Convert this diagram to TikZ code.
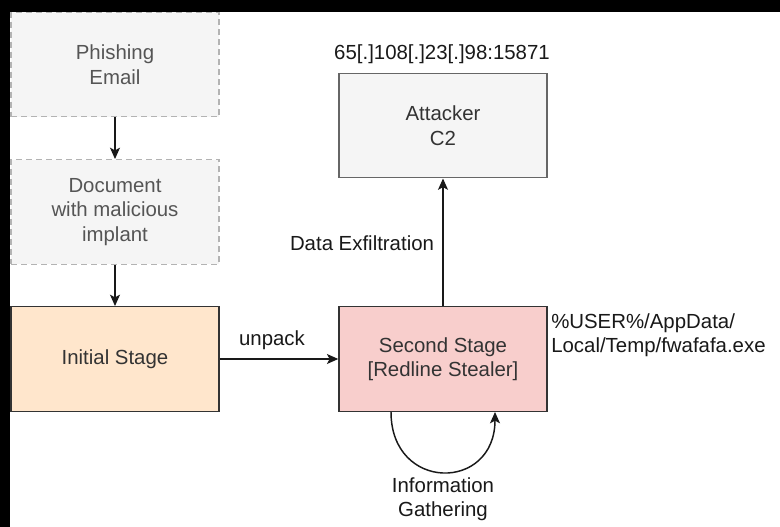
\documentclass[tikz,border=0pt]{standalone}
\usepackage{fontspec}
\setmainfont{Liberation Sans}
\usetikzlibrary{arrows.meta}
\definecolor{boxgray}{HTML}{F5F5F5}
\definecolor{dashgray}{HTML}{B3B3B3}
\definecolor{midgray}{HTML}{666666}
\definecolor{txtgray}{HTML}{333333}
\definecolor{lighttxt}{HTML}{555555}
\definecolor{orangefill}{HTML}{FFE6CC}
\definecolor{redfill}{HTML}{F8CECC}
\begin{document}
\begin{tikzpicture}[x=0.75pt,y=-0.75pt,
  every node/.style={font=\fontsize{15.3}{18.4}\selectfont, align=center, inner sep=0pt},
  basebox/.style={minimum width=208*0.75pt, minimum height=104.5*0.75pt, line width=1.1pt},
  dashbox/.style={basebox, draw=dashgray, fill=boxgray, dashed, dash pattern=on 4.5pt off 3pt, text=lighttxt},
  graybox/.style={basebox, draw=midgray, fill=boxgray, text=txtgray},
  orangebox/.style={basebox, draw=txtgray, fill=orangefill, text=txtgray},
  redbox/.style={basebox, draw=txtgray, fill=redfill, text=txtgray},
  lbl/.style={text=black!90},
  conn/.style={line width=1.1pt, draw=black!90, -{Stealth[length=8.5pt,width=7.5pt,inset=2pt]}}
]
\useasboundingbox (0,0) rectangle (780,527);
\fill[white] (0,0) rectangle (780,527);
\fill[black] (0,0) rectangle (780,12);
\fill[black] (0,0) rectangle (10,527);

\node[dashbox] (phish) at (115,64.5) {Phishing\\Email};
\node[dashbox] (doc) at (115,212) {Document\\with malicious\\implant};
\node[orangebox] (init) at (115,359) {Initial Stage};
\node[redbox] (second) at (443,359) {Second Stage\\{[Redline Stealer]}};
\node[graybox] (c2) at (443,125.5) {Attacker\\C2};

\node[lbl] (ip) at (442,54) {65[.]108[.]23[.]98:15871};
\node[lbl] (exfil) at (362,243) {Data Exfiltration};
\node[lbl] (unpack) at (272,340) {unpack};
\node[lbl, align=left, anchor=west] (path) at (551,335) {\%USER\%/AppData/\\Local/Temp/fwafafa.exe};
\node[lbl] (info) at (443,499) {Information\\Gathering};

\coordinate (ls) at ([xshift=-52*0.75pt]second.south);
\coordinate (le) at ([xshift=52*0.75pt]second.south);

\draw[conn] (phish) -- (doc);
\draw[conn] (doc) -- (init);
\draw[conn] (init) -- (second);
\draw[conn] (second) -- (c2);
\draw[conn] (ls) .. controls ++(0,80) and ++(0,80) .. (le);
\end{tikzpicture}
\end{document}
